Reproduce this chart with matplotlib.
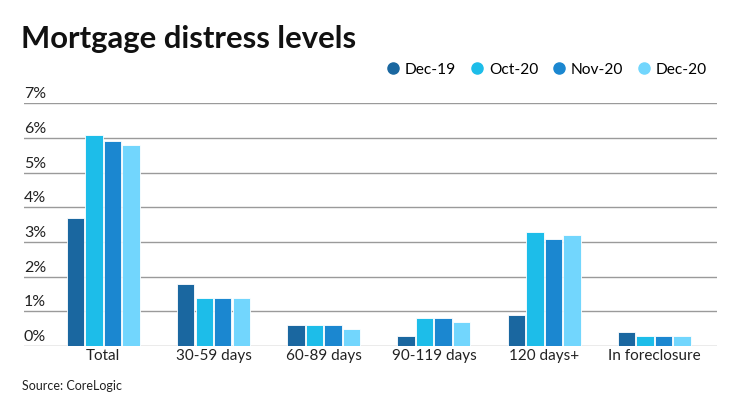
import numpy as np
import matplotlib.pyplot as plt
from matplotlib.lines import Line2D

plt.rcParams['font.family'] = ['Lato', 'DejaVu Sans']

# Data (percent of mortgages)
categories = ["Total", "30-59 days", "60-89 days", "90-119 days", "120 days+", "In foreclosure"]
series_names = ["Dec-19", "Oct-20", "Nov-20", "Dec-20"]
dec19 = [3.7, 1.8, 0.6, 0.3, 0.9, 0.4]
oct20 = [6.1, 1.4, 0.6, 0.8, 3.3, 0.3]
nov20 = [5.9, 1.4, 0.6, 0.8, 3.1, 0.3]
dec20 = [5.8, 1.4, 0.5, 0.7, 3.2, 0.3]
y_ticks = [0, 1, 2, 3, 4, 5, 6, 7]

colors = ["#1a67a0", "#1dbde9", "#1b87d0", "#72d6fd"]
values = [dec19, oct20, nov20, dec20]

fig = plt.figure(figsize=(7.4, 4.16), dpi=100)
ax = fig.add_axes([0.0324, 0.168, 0.9366, 0.5837])

x = np.arange(len(categories))
step = 0.168
width = 0.158
for i, (vals, col) in enumerate(zip(values, colors)):
    offs = (i - 1.5) * step
    ax.bar(x + offs, vals, width=width, color=col, edgecolor="white",
           linewidth=0.6, zorder=3)

x_left, x_right = -0.72, 5.57
ax.set_xlim(x_left, x_right)
ax.set_ylim(0, 7)

for t in y_ticks:
    ax.axhline(t, color="#9a9a9a", linewidth=1.0, zorder=1)
    ax.text(x_left, t + 0.06, f"{t}%", ha="left", va="bottom",
            fontsize=11.5, color="#222222")

ax.set_yticks([])
ax.set_xticks(x)
ax.set_xticklabels(categories, fontsize=11, color="#222222")
ax.tick_params(axis="x", length=0, pad=2)
for s in ax.spines.values():
    s.set_visible(False)

fig.text(0.028, 0.885, "Mortgage distress levels", fontsize=22.3, fontweight="bold",
         color="#111111", ha="left", va="baseline")

handles = [Line2D([0], [0], marker="o", linestyle="", markersize=8,
                  markerfacecolor=c, markeredgecolor=c) for c in colors]
fig.legend(handles, series_names, loc="center right", bbox_to_anchor=(0.970, 0.832),
           ncol=4, frameon=False, fontsize=11.2, handletextpad=0.25,
           columnspacing=0.85, handlelength=1.0, borderpad=0.2)

fig.text(0.03, 0.072, "Source: CoreLogic", fontsize=9, color="#222222",
         ha="left", va="center")

fig.savefig("out.png", dpi=100)
